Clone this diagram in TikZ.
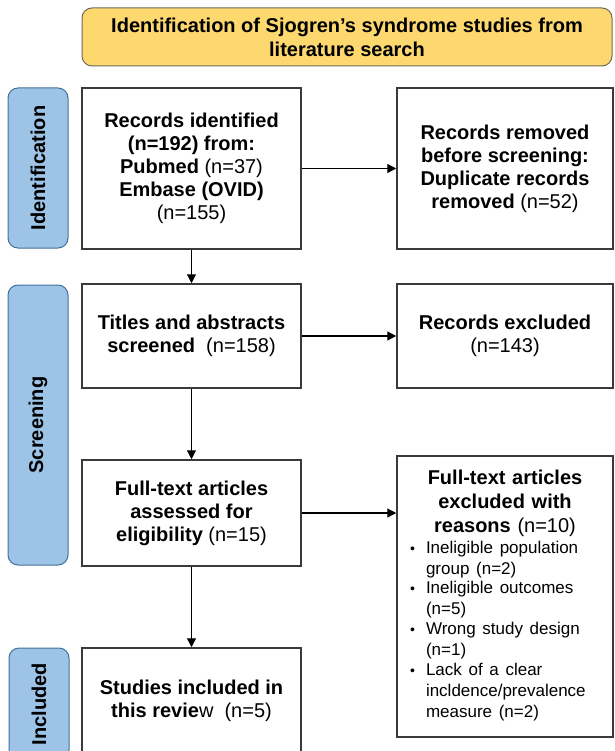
\documentclass[tikz,border=0pt]{standalone}
\usepackage{fontspec}
\setmainfont{Liberation Sans}
\usetikzlibrary{arrows.meta}

\definecolor{titlegold}{HTML}{FCD86F}
\definecolor{titleedge}{HTML}{6E6A55}
\definecolor{stageblue}{HTML}{9DC3E6}
\definecolor{stageedge}{HTML}{41719C}
\definecolor{boxedge}{HTML}{3A3A3A}

\newcommand{\bulletitem}[1]{\par\noindent\makebox[16pt][l]{\fontsize{14}{14}\selectfont\textbullet}\parbox[t]{174pt}{\raggedright\fontsize{17}{21}\selectfont#1\strut}}

\begin{document}
\begin{tikzpicture}[x=1pt, y=-1pt, -{Triangle[length=9pt,width=9pt]}, line width=1.2pt]
  \tikzstyle{heading}=[-, fill=titlegold, draw=titleedge, line width=1pt, rounded corners=10pt, align=center, minimum width=530pt, minimum height=58pt, font=\fontsize{20}{24}\selectfont\bfseries]
  \tikzstyle{stage}=[-, fill=stageblue, draw=stageedge, line width=1pt, rounded corners=10pt, rotate=90, minimum height=60pt, font=\fontsize{20}{24}\selectfont\bfseries]
  \tikzstyle{box}=[-, fill=white, draw=boxedge, line width=1.5pt, align=center, font=\fontsize{20}{23}\selectfont]

  \useasboundingbox (0,0) rectangle (614,751);

  \node[heading]                (title)   at (347,37)    {Identification of Sjogren's syndrome studies from\\ literature search};

  \node[stage, minimum width=160pt] (ident)   at (38,168)    {Identification};
  \node[stage, minimum width=280pt] (screen)  at (38,425)    {Screening};
  \node[stage, minimum width=112pt] (incl)    at (39,704)    {Included};

  \node[box, minimum width=219pt, minimum height=161pt] (found)    at (191.5,168.5) {\textbf{Records identified}\\ \textbf{(n=192) from:}\\ \textbf{Pubmed} (n=37)\\ \textbf{Embase (OVID)}\\ (n=155)};
  \node[box, minimum width=216pt, minimum height=161pt] (dupes)    at (505,168.5)   {\textbf{Records removed}\\ \textbf{before screening:}\\ \textbf{Duplicate records}\\ \textbf{removed} (n=52)};

  \node[box, minimum width=219pt, minimum height=104pt] (screened) at (191.5,336)   {\textbf{Titles and abstracts}\\ \textbf{screened}\ \ (n=158)};
  \node[box, minimum width=216pt, minimum height=104pt] (dropped)  at (505,336)     {\textbf{Records excluded}\\ (n=143)};

  \node[box, minimum width=219pt, minimum height=106pt] (fulltext) at (191.5,513)   {\textbf{Full-text articles}\\ \textbf{assessed for}\\ \textbf{eligibility} (n=15)};
  \node[box, minimum width=216pt, minimum height=281pt, text width=190pt, align=left] (reasons) at (505,596.5) {%
    {\centering\fontsize{20}{24}\selectfont\textbf{Full-text articles}\\ \textbf{excluded with}\\ \textbf{reasons} (n=10)\par}
    \fontsize{17}{21}\selectfont
    \bulletitem{Ineligible population\\ group (n=2)}
    \bulletitem{Ineligible outcomes\\ (n=5)}
    \bulletitem{Wrong study design\\ (n=1)}
    \bulletitem{Lack of a clear\\ incldence/prevalence\\ measure (n=2)}\par};

  \node[box, minimum width=219pt, minimum height=106pt] (included) at (191.5,701)   {\textbf{Studies included in}\\ \textbf{this revie}w\ \ (n=5)};

  \path (found) edge (dupes);
  \path (found) edge (screened);
  \path (screened) edge (dropped);
  \path (screened) edge (fulltext);
  \draw (fulltext.east) -- (fulltext.east -| reasons.west);
  \path (fulltext) edge (included);

\end{tikzpicture}
\end{document}
